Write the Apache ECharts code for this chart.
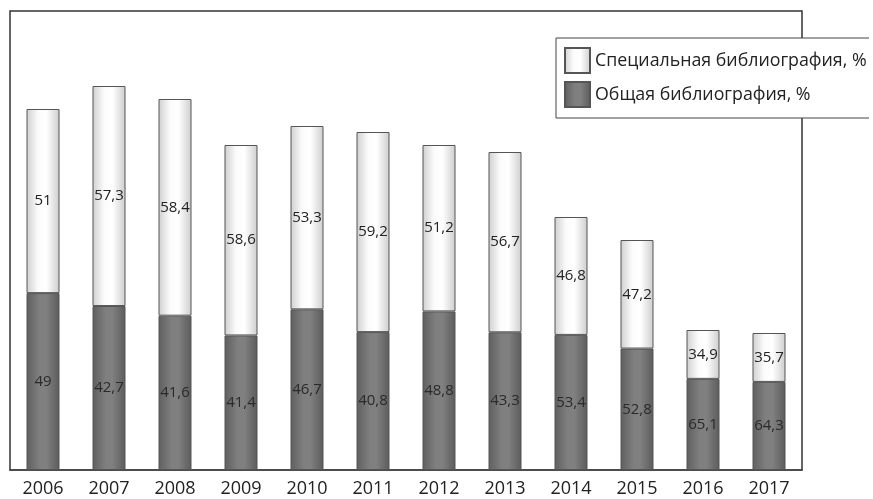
<!DOCTYPE html>
<html>
<head>
<meta charset="utf-8">
<script src="https://cdn.jsdelivr.net/npm/echarts@6/dist/echarts.min.js"></script>
<style>
  html, body { margin: 0; padding: 0; background: #fff; }
  #chart { width: 873px; height: 499px; }
</style>
</head>
<body>
<div id="chart"></div>
<script>
// years on the x axis
var years = ['2006', '2007', '2008', '2009', '2010', '2011', '2012', '2013', '2014', '2015', '2016', '2017'];
// total height of each bar (relative units)
var totals = [361, 384, 371, 325, 344, 338, 325, 318, 253, 230, 140, 137];
// printed percentages
var generalPct = [49, 42.7, 41.6, 41.4, 46.7, 40.8, 48.8, 43.3, 53.4, 52.8, 65.1, 64.3];
var specialPct = [51, 57.3, 58.4, 58.6, 53.3, 59.2, 51.2, 56.7, 46.8, 47.2, 34.9, 35.7];

var generalName = 'Общая библиография, %';
var specialName = 'Специальная библиография, %';

var generalVals = totals.map(function (t, i) { return t * generalPct[i] / 100; });
var specialVals = totals.map(function (t, i) { return t - generalVals[i]; });

function fmt(v) { return String(v).replace('.', ','); }

var lightFill = new echarts.graphic.LinearGradient(0, 0, 1, 0, [
  { offset: 0, color: '#cfcfcf' },
  { offset: 0.35, color: '#fbfbfb' },
  { offset: 0.6, color: '#ffffff' },
  { offset: 1, color: '#cdcdcd' }
]);
var darkFill = new echarts.graphic.LinearGradient(0, 0, 1, 0, [
  { offset: 0, color: '#5f5f5f' },
  { offset: 0.4, color: '#7f7f7f' },
  { offset: 0.6, color: '#808080' },
  { offset: 1, color: '#5c5c5c' }
]);

var chart = echarts.init(document.getElementById('chart'));
chart.setOption({
  animation: false,
  backgroundColor: '#fff',
  textStyle: { fontFamily: 'Open Sans' },
  grid: {
    left: 10, right: 71, top: 11, bottom: 29,
    show: true, borderColor: '#333', borderWidth: 1.5, backgroundColor: 'transparent'
  },
  legend: {
    data: [specialName, generalName],
    orient: 'vertical',
    left: 556, top: 38,
    padding: [9, 60, 10, 8],
    icon: 'rect',
    itemWidth: 25, itemHeight: 25, itemGap: 7,
    backgroundColor: '#fff',
    borderColor: '#444', borderWidth: 1,
    textStyle: { fontSize: 17.8, color: '#222', fontFamily: 'Open Sans' }
  },
  // the legend box runs off the right edge in the original
  graphic: [{
    type: 'rect', right: 0, top: 30, z: 100,
    shape: { width: 4, height: 100 },
    style: { fill: '#fff' }
  }],
  xAxis: {
    type: 'category',
    data: years,
    axisTick: { show: false },
    axisLine: { lineStyle: { color: '#444', width: 1.5 } },
    axisLabel: { fontSize: 18, color: '#222', margin: 10, fontFamily: 'Open Sans' }
  },
  yAxis: {
    type: 'value', min: 0, max: 459, show: false, splitLine: { show: false }
  },
  series: [
    {
      name: generalName,
      type: 'bar', stack: 'all', barWidth: '50%',
      data: generalVals,
      itemStyle: { color: darkFill, borderColor: '#555', borderWidth: 1 },
      label: {
        show: true, position: 'inside', fontSize: 15, color: '#2a2a2a',
        formatter: function (p) { return fmt(generalPct[p.dataIndex]); }
      }
    },
    {
      name: specialName,
      type: 'bar', stack: 'all', barWidth: '50%',
      data: specialVals,
      itemStyle: { color: lightFill, borderColor: '#555', borderWidth: 1 },
      label: {
        show: true, position: 'inside', fontSize: 15, color: '#222',
        formatter: function (p) { return fmt(specialPct[p.dataIndex]); }
      }
    }
  ]
});
</script>
</body>
</html>
